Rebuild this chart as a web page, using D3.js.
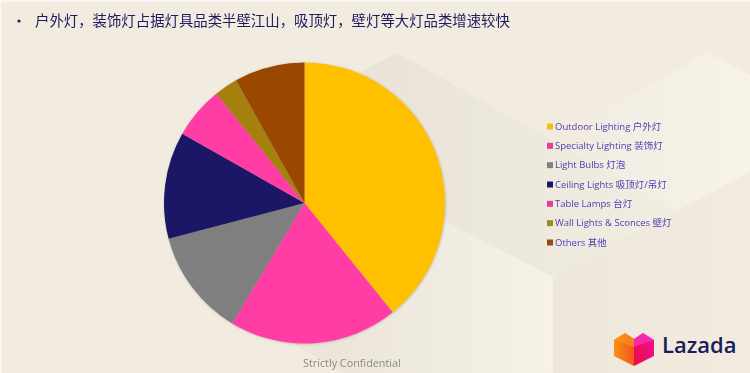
<!DOCTYPE html>
<html>
<head>
<meta charset="utf-8">
<script src="https://cdn.jsdelivr.net/npm/d3@7"></script>
<style>
  html, body { margin: 0; padding: 0; background: #f1ebe0; }
  svg { display: block; }
  text { font-family: "Open Sans", "Noto Sans CJK SC", sans-serif; }
</style>
</head>
<body>
<svg id="chart" width="750" height="373"></svg>
<script>
const categories = ['Outdoor Lighting 户外灯', 'Specialty Lighting 装饰灯', 'Light Bulbs 灯泡',
    'Ceiling Lights 吸顶灯/吊灯', 'Table Lamps 台灯', 'Wall Lights & Sconces 壁灯', 'Others 其他'];
const shares = [39.2, 19.4, 12.3, 12.3, 6, 2.7, 8.1];
const colors = ['#ffc000', '#ff3ca5', '#7f7f7f', '#1a1266', '#ff3ca5', '#a5800f', '#9a4600'];
const legendColors = ['#f5c011', '#e0409a', '#858080', '#17126a', '#e0409a', '#a08c1c', '#964813'];

const svg = d3.select('#chart');
const defs = svg.append('defs');

const shadow = defs.append('filter').attr('id', 'pieShadow')
    .attr('x', '-10%').attr('y', '-10%').attr('width', '120%').attr('height', '120%');
shadow.append('feDropShadow').attr('dx', 0.5).attr('dy', 0.5).attr('stdDeviation', 1.2)
    .attr('flood-color', '#6b6250').attr('flood-opacity', 0.4);

const soft = defs.append('filter').attr('id', 'soft');
soft.append('feGaussianBlur').attr('stdDeviation', 0.3);

const addGrad = (id, x1, x2, from, to) => {
    const g = defs.append('linearGradient').attr('id', id)
        .attr('gradientUnits', 'userSpaceOnUse')
        .attr('x1', x1).attr('x2', x2).attr('y1', 0).attr('y2', 0);
    g.append('stop').attr('offset', 0).attr('stop-color', from);
    g.append('stop').attr('offset', 1).attr('stop-color', to);
};
addGrad('lightPanel', 340, 553, '#ece6da', '#f6f2e8');
addGrad('topFacet', 560, 750, '#f1ebe0', '#f7f3e9');
addGrad('rightFacet', 553, 750, '#eee8dc', '#f1ecdf');
addGrad('darkFacet', 380, 660, '#e9e4d7', '#f2ede2');

const logoLeft = defs.append('linearGradient').attr('id', 'logoLeft')
    .attr('x1', 0).attr('x2', 1).attr('y1', 0).attr('y2', 0);
logoLeft.append('stop').attr('offset', 0).attr('stop-color', '#f98f14');
logoLeft.append('stop').attr('offset', 1).attr('stop-color', '#f5551c');

const logoRight = defs.append('linearGradient').attr('id', 'logoRight')
    .attr('x1', 0).attr('x2', 1).attr('y1', 1).attr('y2', 0);
logoRight.append('stop').attr('offset', 0).attr('stop-color', '#e8073f');
logoRight.append('stop').attr('offset', 1).attr('stop-color', '#f5119a');

// background facets of the slide
const facets = [
    { fill: 'url(#topFacet)', pts: '707,52 750,75 750,172 680,213 540,133 630,97' },
    { fill: 'url(#darkFacet)', pts: '397,53 680,213 553,277 446,222 345,373 293,343 250,130' },
    { fill: 'url(#lightPanel)', pts: '446,222 553,277 553,373 345,373 300,345' },
    { fill: 'url(#rightFacet)', pts: '553,277 750,172 750,373 553,373' }
];
svg.append('rect').attr('width', 750).attr('height', 373).attr('fill', '#f1ebe0');
svg.selectAll('polygon.facet').data(facets).enter().append('polygon')
    .attr('class', 'facet')
    .attr('points', d => d.pts)
    .attr('fill', d => d.fill)
    .attr('stroke', d => d.fill)
    .attr('stroke-width', 0.5);
svg.append('path').attr('d', 'M0,1H750M0.5,0V373')
    .attr('stroke', '#faf8f3').attr('stroke-width', 1.5).attr('fill', 'none');

// title
const title = svg.append('g').attr('filter', 'url(#soft)');
title.append('circle').attr('cx', 19).attr('cy', 21).attr('r', 1.6).attr('fill', '#1d1a5e');
title.append('text').attr('x', 35).attr('y', 26)
    .attr('font-size', 14.4).attr('fill', '#1d1a5e')
    .text('户外灯，装饰灯占据灯具品类半壁江山，吸顶灯，壁灯等大灯品类增速较快');

// pie
const radius = 140.5;
const pie = d3.pie().value(d => d).sort(null);
const arc = d3.arc().innerRadius(0).outerRadius(radius);

const pieG = svg.append('g')
    .attr('transform', 'translate(304.5,203)')
    .attr('filter', 'url(#pieShadow)');

pieG.selectAll('path')
    .data(pie(shares))
    .enter()
    .append('path')
    .attr('d', arc)
    .attr('fill', (d, i) => colors[i]);

// legend
const legendY = d3.scalePoint().domain(categories).range([126.5, 242.5]);
const legend = svg.append('g').attr('filter', 'url(#soft)')
    .selectAll('g')
    .data(categories)
    .enter()
    .append('g')
    .attr('transform', d => `translate(547,${legendY(d)})`);

legend.append('rect')
    .attr('y', -3).attr('width', 6).attr('height', 6)
    .attr('fill', (d, i) => legendColors[i]);

legend.append('text')
    .attr('x', 8).attr('y', 3.2)
    .attr('font-size', 9.5).attr('fill', '#4a3db8')
    .text(d => d);

// footer
svg.append('text').attr('x', 303).attr('y', 367)
    .attr('font-size', 10.8).attr('fill', '#8a8a84')
    .attr('filter', 'url(#soft)')
    .text('Strictly Confidential');

// logo
const logo = svg.append('g').attr('transform', 'translate(614,333)').attr('filter', 'url(#soft)');
logo.append('path').attr('d', 'M0,7 L11,0 L20,6 L20,33 L0,23 Z').attr('fill', 'url(#logoLeft)');
logo.append('path').attr('d', 'M20,6 L29,0 L40,7 L40,23 L20,33 Z').attr('fill', 'url(#logoRight)');
logo.append('path').attr('d', 'M11,0 L20,6 L20,14 L0,7 Z').attr('fill', '#fb9a1e').attr('opacity', 0.55);
logo.append('path').attr('d', 'M29,0 L40,7 L20,14 L20,6 Z').attr('fill', '#fb3fd0').attr('opacity', 0.6);
svg.append('text').attr('x', 662).attr('y', 353)
    .attr('font-size', 22).attr('font-weight', 600).attr('fill', '#1a1a5e')
    .attr('font-family', 'Inter, sans-serif')
    .text('Lazada');
</script>
</body>
</html>
